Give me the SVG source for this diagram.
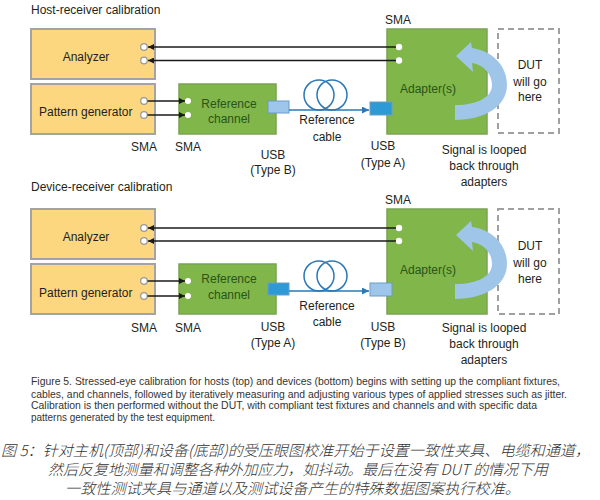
<svg xmlns="http://www.w3.org/2000/svg" xmlns:xlink="http://www.w3.org/1999/xlink" width="600" height="500" viewBox="0 0 600 500">
<defs>
<style>
.t{font-family:"Liberation Sans",Arial,sans-serif;font-size:12px;fill:#231f20}
.m{text-anchor:middle}
.g{fill:#2a5418}
.title{font-family:"Liberation Sans",Arial,sans-serif;font-size:12px;fill:#231f20}
.yb{fill:#fcd77f;stroke:#a3a3a3;stroke-width:2}
.gb{fill:#80b64a;stroke:#7aa356;stroke-width:1.5}
.port{fill:#fff;stroke:#9a9a9a;stroke-width:1.3}
.gport{fill:#fff}
.wire{stroke:#1a1a1a;stroke-width:1.5;fill:none}
.cable{stroke:#2b78b5;stroke-width:1.5;fill:none}
.usbA{fill:#2d9ad5;stroke:#6a9cc4;stroke-width:1}
.usbB{fill:#9ec6ea;stroke:#6a9cc4;stroke-width:1}
.dut{fill:#fff;stroke:#a0a0a0;stroke-width:2;stroke-dasharray:6 4}
.loop{fill:#9fc5e9}
.cap{font-family:"Liberation Sans",Arial,sans-serif;font-size:10.5px;fill:#333}
.cn{font-family:"Noto Sans CJK SC","Noto Sans",sans-serif;font-size:15px;font-style:italic;font-weight:300;fill:#333}
</style>
<marker id="ah" viewBox="0 0 10 10" refX="10" refY="5" markerWidth="6" markerHeight="6" orient="auto" markerUnits="userSpaceOnUse">
<path d="M0,0 L10,5 L0,10 Z" fill="#1a1a1a"/>
</marker>
<marker id="bh" viewBox="0 0 10 10" refX="10" refY="5" markerWidth="7" markerHeight="7" orient="auto" markerUnits="userSpaceOnUse">
<path d="M0,0 L10,5 L0,10 Z" fill="#2b78b5"/>
</marker>
<path id="loopArrow" d="M455,120 C485,120 507,106 507,85 C507,66 493,51 472,48 L471,42 L456,56 L473,72 L472,63 C484,65 492,74 492,85 C492,97 478,105 455,105 Z"/>
<g id="coil">
<circle cx="319" cy="95" r="15" class="cable"/>
<circle cx="332" cy="95" r="15" class="cable"/>
</g>
</defs>
<rect width="600" height="500" fill="#fff"/>

<!-- ===== Top: Host-receiver calibration ===== -->
<text class="title" x="31" y="14">Host-receiver calibration</text>

<g id="analyzer1">
<rect class="yb" x="31" y="29" width="124" height="50"/>
<text class="t m" x="86" y="61">Analyzer</text>
<circle class="port" cx="144" cy="47" r="3.3"/>
<circle class="port" cx="144" cy="60.5" r="3.3"/>
</g>
<g id="patterngen1">
<rect class="yb" x="31" y="84" width="124" height="50"/>
<text class="t" x="39" y="116">Pattern generator</text>
<circle class="port" cx="144" cy="101" r="3.3"/>
<circle class="port" cx="144" cy="115" r="3.3"/>
</g>
<g id="refchannel1">
<rect class="gb" x="179" y="84" width="97" height="50"/>
<circle class="gport" cx="188" cy="101" r="3"/>
<circle class="gport" cx="188" cy="115" r="3"/>
<text class="t m g" x="229" y="108">Reference</text>
<text class="t m g" x="229" y="123">channel</text>
<rect class="usbB" x="268" y="101" width="21" height="12"/>
</g>
<g id="adapter1">
<rect class="gb" x="387" y="29" width="100" height="105"/>
<circle class="gport" cx="399" cy="47" r="3.2"/>
<circle class="gport" cx="399" cy="60.5" r="3.2"/>
<text class="t m g" x="428" y="93">Adapter(s)</text>
<rect class="usbA" x="370" y="102" width="22" height="13"/>
</g>
<g id="dut1">
<rect class="dut" x="498" y="29" width="61" height="104"/>
<text class="t m" x="530" y="69">DUT</text>
<text class="t m" x="530" y="86">will go</text>
<text class="t m" x="530" y="101">here</text>
</g>
<use xlink:href="#loopArrow" class="loop"/>

<g id="connectors1">
<line class="wire" x1="396" y1="47" x2="148" y2="47" marker-end="url(#ah)"/>
<line class="wire" x1="396" y1="60.5" x2="148" y2="60.5" marker-end="url(#ah)"/>
<line class="wire" x1="147.5" y1="101" x2="185" y2="101" marker-end="url(#ah)"/>
<line class="wire" x1="147.5" y1="115" x2="185" y2="115" marker-end="url(#ah)"/>
<line class="cable" x1="289" y1="110" x2="369" y2="110" marker-end="url(#bh)"/>
<use xlink:href="#coil"/>
</g>

<g id="labels1">
<text class="t m" x="144" y="151">SMA</text>
<text class="t m" x="188" y="151">SMA</text>
<text class="t m" x="273" y="159">USB</text>
<text class="t m" x="273" y="174">(Type B)</text>
<text class="t m" x="398" y="24">SMA</text>
<text class="t m" x="327" y="124">Reference</text>
<text class="t m" x="327" y="141">cable</text>
<text class="t m" x="383" y="150">USB</text>
<text class="t m" x="383" y="167">(Type A)</text>
<text class="t m" x="484" y="154">Signal is looped</text>
<text class="t m" x="484" y="170">back through</text>
<text class="t m" x="484" y="186">adapters</text>
</g>

<!-- ===== Bottom: Device-receiver calibration ===== -->
<text class="title" x="31" y="191">Device-receiver calibration</text>

<g id="analyzer2">
<rect class="yb" x="31" y="209" width="124" height="50"/>
<text class="t m" x="86" y="241">Analyzer</text>
<circle class="port" cx="144" cy="228" r="3.3"/>
<circle class="port" cx="144" cy="241" r="3.3"/>
</g>
<g id="patterngen2">
<rect class="yb" x="31" y="264" width="124" height="50"/>
<text class="t" x="39" y="297">Pattern generator</text>
<circle class="port" cx="144" cy="281" r="3.3"/>
<circle class="port" cx="144" cy="296" r="3.3"/>
</g>
<g id="refchannel2">
<rect class="gb" x="179" y="264" width="97" height="50"/>
<circle class="gport" cx="188" cy="281" r="3"/>
<circle class="gport" cx="188" cy="296" r="3"/>
<text class="t m g" x="229" y="283">Reference</text>
<text class="t m g" x="229" y="299">channel</text>
<rect class="usbA" x="268" y="283" width="21" height="12"/>
</g>
<g id="adapter2">
<rect class="gb" x="387" y="209" width="100" height="105"/>
<circle class="gport" cx="399" cy="228" r="3.2"/>
<circle class="gport" cx="399" cy="241" r="3.2"/>
<text class="t m g" x="428" y="274">Adapter(s)</text>
<rect class="usbB" x="370" y="283" width="22" height="13"/>
</g>
<g id="dut2">
<rect class="dut" x="498" y="209" width="61" height="105"/>
<text class="t m" x="530" y="250">DUT</text>
<text class="t m" x="530" y="267">will go</text>
<text class="t m" x="530" y="283">here</text>
</g>
<use xlink:href="#loopArrow" class="loop" transform="translate(0,179)"/>

<g id="connectors2">
<line class="wire" x1="396" y1="228" x2="148" y2="228" marker-end="url(#ah)"/>
<line class="wire" x1="396" y1="241" x2="148" y2="241" marker-end="url(#ah)"/>
<line class="wire" x1="147.5" y1="281" x2="185" y2="281" marker-end="url(#ah)"/>
<line class="wire" x1="147.5" y1="296" x2="185" y2="296" marker-end="url(#ah)"/>
<line class="cable" x1="289" y1="291" x2="369" y2="291" marker-end="url(#bh)"/>
<use xlink:href="#coil" transform="translate(0,181)"/>
</g>

<g id="labels2">
<text class="t m" x="144" y="332">SMA</text>
<text class="t m" x="188" y="332">SMA</text>
<text class="t m" x="273" y="331">USB</text>
<text class="t m" x="273" y="347">(Type A)</text>
<text class="t m" x="398" y="204">SMA</text>
<text class="t m" x="327" y="310">Reference</text>
<text class="t m" x="327" y="326">cable</text>
<text class="t m" x="383" y="331">USB</text>
<text class="t m" x="383" y="347">(Type B)</text>
<text class="t m" x="484" y="332">Signal is looped</text>
<text class="t m" x="484" y="348">back through</text>
<text class="t m" x="484" y="364">adapters</text>
</g>

<!-- ===== Caption ===== -->
<g id="caption">
<text class="cap" x="31" y="385" textLength="529" lengthAdjust="spacingAndGlyphs">Figure 5. Stressed-eye calibration for hosts (top) and devices (bottom) begins with setting up the compliant fixtures,</text>
<text class="cap" x="31" y="398" textLength="536" lengthAdjust="spacingAndGlyphs">cables, and channels, followed by iteratively measuring and adjusting various types of applied stresses such as jitter.</text>
<text class="cap" x="31" y="409" textLength="506" lengthAdjust="spacingAndGlyphs">Calibration is then performed without the DUT, with compliant test fixtures and channels and with specific data</text>
<text class="cap" x="31" y="421" textLength="184" lengthAdjust="spacingAndGlyphs">patterns generated by the test equipment.</text>
<text class="cn" x="1" y="456" textLength="589" lengthAdjust="spacingAndGlyphs">图 5：针对主机(顶部)和设备(底部)的受压眼图校准开始于设置一致性夹具、电缆和通道，</text>
<text class="cn" x="48" y="475" textLength="500" lengthAdjust="spacingAndGlyphs">然后反复地测量和调整各种外加应力，如抖动。最后在没有 DUT 的情况下用</text>
<text class="cn" x="65" y="494" textLength="455" lengthAdjust="spacingAndGlyphs">一致性测试夹具与通道以及测试设备产生的特殊数据图案执行校准。</text>
</g>
</svg>
